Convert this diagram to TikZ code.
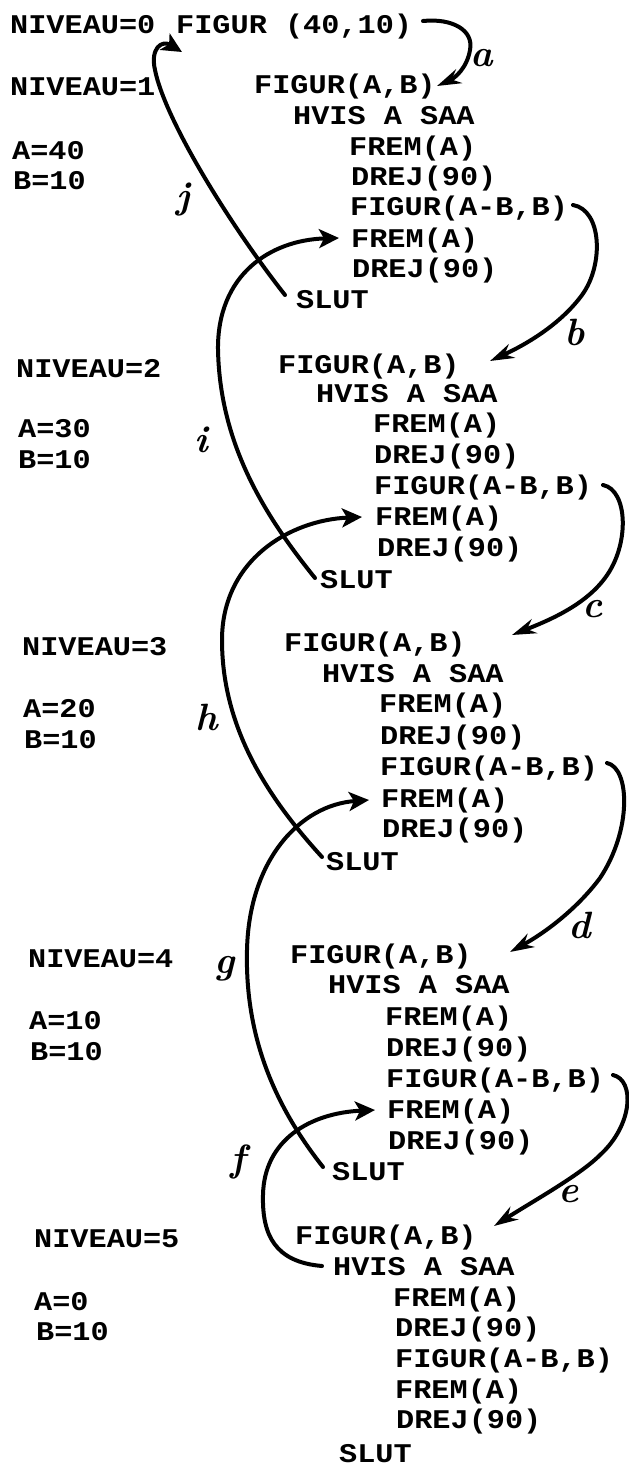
\documentclass[tikz,border=0pt]{standalone}
\usepackage{fontspec}
\newfontfamily\prt[FakeStretch=1.12]{Liberation Mono}
\usetikzlibrary{arrows.meta,calc}
\newcommand\codefont{\prt\bfseries\fontsize{27}{30}\selectfont}
\newcommand\handfont{\fontsize{38}{38}\selectfont\bfseries\itshape}
\begin{document}
\begin{tikzpicture}[x=1pt,y=-1pt,
  code/.style={anchor=base west,inner sep=0pt,font=\codefont},
  hand/.style={inner sep=0pt,font=\handfont},
  link/.style={line width=4pt,line cap=round},
  fwd/.style={link,-{Stealth[length=24pt,width=15pt,inset=8pt]}},
  back/.style={link,-{Stealth[length=20pt,width=19pt,inset=5pt]}}]
\useasboundingbox (0,0) rectangle (629,1465);

% level 0: the call
\node[code] (n0) at (10,33) {NIVEAU=0};
\node[code] (t0) at (176,33) {FIGUR (40,10)};

% level 1
\node[code] (v1) at (10,95) {NIVEAU=1};
\node[code] (a1) at (12,159) {A=40};
\node[code] (b1) at (13,189) {B=10};
\node[code] (f1) at (254,93) {FIGUR(A,B)};
\node[code] (h1) at (293,124) {HVIS A SAA};
\node[code] (p1) at (349,155) {FREM(A)};
\node[code] (d1) at (351,185) {DREJ(90)};
\node[code] (r1) at (350,215) {FIGUR(A-B,B)};
\node[code] (q1) at (351,247) {FREM(A)};
\node[code] (e1) at (352,277) {DREJ(90)};
\node[code] (s1) at (296,308) {SLUT};

% level 2
\node[code] (v2) at (16,377) {NIVEAU=2};
\node[code] (a2) at (18,437) {A=30};
\node[code] (b2) at (18,468) {B=10};
\node[code] (f2) at (278,373) {FIGUR(A,B)};
\node[code] (h2) at (316,402) {HVIS A SAA};
\node[code] (p2) at (373,432) {FREM(A)};
\node[code] (d2) at (374,463) {DREJ(90)};
\node[code] (r2) at (374,494) {FIGUR(A-B,B)};
\node[code] (q2) at (375,525) {FREM(A)};
\node[code] (e2) at (377,556) {DREJ(90)};
\node[code] (s2) at (320,588) {SLUT};

% level 3
\node[code] (v3) at (22,655) {NIVEAU=3};
\node[code] (a3) at (23,717) {A=20};
\node[code] (b3) at (24,748) {B=10};
\node[code] (f3) at (284,651) {FIGUR(A,B)};
\node[code] (h3) at (322,682) {HVIS A SAA};
\node[code] (p3) at (379,712) {FREM(A)};
\node[code] (d3) at (380,744) {DREJ(90)};
\node[code] (r3) at (380,775) {FIGUR(A-B,B)};
\node[code] (q3) at (381,807) {FREM(A)};
\node[code] (e3) at (382,837) {DREJ(90)};
\node[code] (s3) at (326,870) {SLUT};

% level 4
\node[code] (v4) at (28,967) {NIVEAU=4};
\node[code] (a4) at (29,1029) {A=10};
\node[code] (b4) at (30,1060) {B=10};
\node[code] (f4) at (290,963) {FIGUR(A,B)};
\node[code] (h4) at (328,993) {HVIS A SAA};
\node[code] (p4) at (385,1025) {FREM(A)};
\node[code] (d4) at (386,1056) {DREJ(90)};
\node[code] (r4) at (386,1087) {FIGUR(A-B,B)};
\node[code] (q4) at (387,1118) {FREM(A)};
\node[code] (e4) at (388,1149) {DREJ(90)};
\node[code] (s4) at (332,1180) {SLUT};

% level 5
\node[code] (v5) at (34,1247) {NIVEAU=5};
\node[code] (a5) at (34,1310) {A=0};
\node[code] (b5) at (36,1340) {B=10};
\node[code] (f5) at (295,1244) {FIGUR(A,B)};
\node[code] (h5) at (333,1275) {HVIS A SAA};
\node[code] (p5) at (393,1306) {FREM(A)};
\node[code] (d5) at (395,1336) {DREJ(90)};
\node[code] (r5) at (395,1367) {FIGUR(A-B,B)};
\node[code] (q5) at (395,1398) {FREM(A)};
\node[code] (e5) at (396,1428) {DREJ(90)};
\node[code] (s5) at (339,1462) {SLUT};

% calls going down (a-e)
\draw[fwd] ($(t0.base west)+(247,-12)$) .. controls (452,18) and (474,30) .. (470,50)
  .. controls (467,68) and (455,78) .. ($(f1.base west)+(183,-7)$);
\draw[fwd] ($(r1.base west)+(223,-10)$) .. controls (602,210) and (604,265) .. (582,295)
  .. controls (560,325) and (525,345) .. ($(f2.base west)+(212,-12)$);
\draw[fwd] ($(r2.base west)+(229,-9)$) .. controls (628,490) and (630,545) .. (605,578)
  .. controls (585,605) and (550,620) .. ($(f3.base west)+(228,-16)$);
\draw[fwd] ($(r3.base west)+(227,-12)$) .. controls (630,768) and (632,830) .. (600,878)
  .. controls (580,905) and (550,930) .. ($(f4.base west)+(220,-11)$);
\draw[fwd] ($(r4.base west)+(227,-12)$) .. controls (635,1080) and (633,1125) .. (600,1155)
  .. controls (580,1175) and (535,1200) .. ($(f5.base west)+(199,-18)$);

% returns going up (f-j)
\draw[back] ($(h5.base west)+(-11,-9)$) .. controls (275,1262) and (262,1235) .. (263,1195)
  .. controls (264,1140) and (310,1113) .. ($(q4.base west)+(-12,-8)$);
\draw[back] ($(s4.base west)+(-9,-13)$) .. controls (270,1100) and (245,1030) .. (247,950)
  .. controls (249,860) and (300,805) .. ($(q3.base west)+(-12,-7)$);
\draw[back] ($(s3.base west)+(-4,-13)$) .. controls (270,800) and (222,730) .. (222,640)
  .. controls (222,560) and (290,520) .. ($(q2.base west)+(-13,-8)$);
\draw[back] ($(s2.base west)+(-5,-10)$) .. controls (260,510) and (220,440) .. (218,350)
  .. controls (217,275) and (270,240) .. ($(q1.base west)+(-12,-9)$);
\draw[back] ($(s1.base west)+(-11,-13)$) .. controls (230,225) and (165,120) .. (155,70)
  .. controls (150,48) and (162,40) .. ($(t0.base west)+(6,19)$);

% handwritten step letters
\node[hand] (la) at (482,58) {a};
\node[hand] (lb) at (575,332) {b};
\node[hand] (lc) at (593,609) {c};
\node[hand] (ld) at (580,925) {d};
\node[hand] (le) at (569,1194) {e};
\node[hand] (lf) at (238,1162) {f};
\node[hand] (lg) at (225,969) {g};
\node[hand] (lh) at (207,717) {h};
\node[hand] (li) at (201,440) {i};
\node[hand] (lj) at (183,200) {j};
\end{tikzpicture}
\end{document}
